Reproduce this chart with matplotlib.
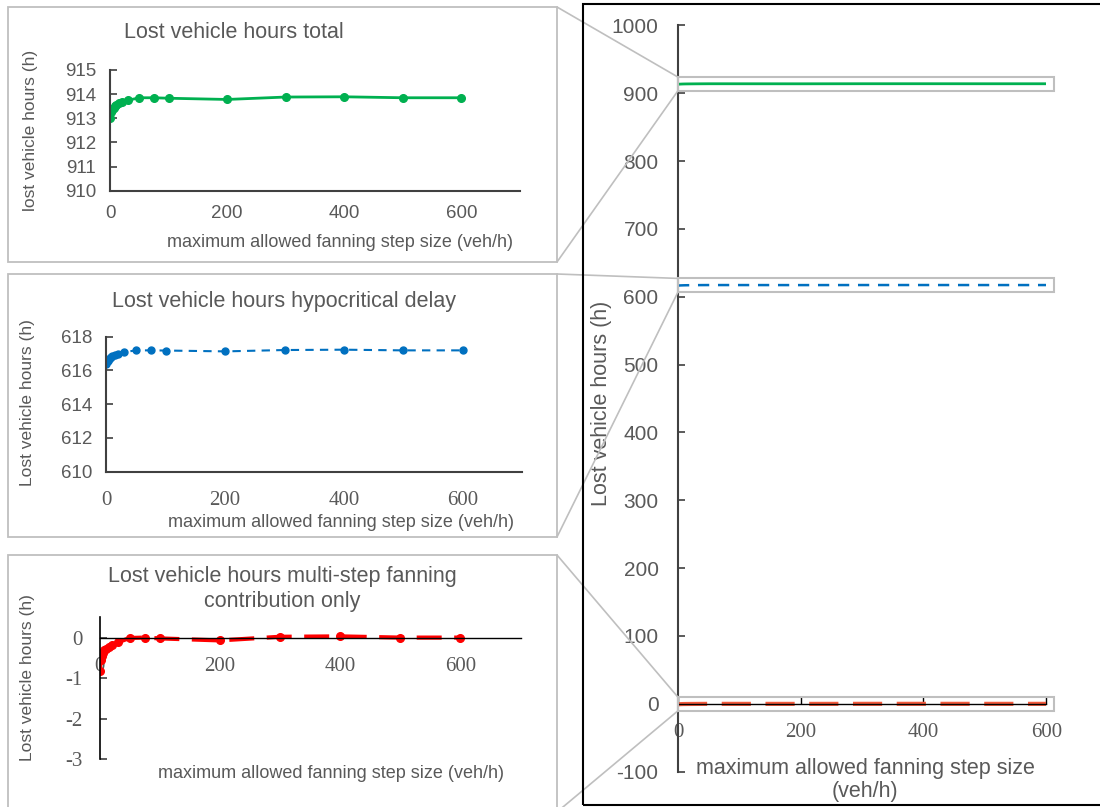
import matplotlib
matplotlib.use('Agg')
import matplotlib.pyplot as plt
from matplotlib.patches import Rectangle, ConnectionPatch
import numpy as np

# data
step_size = [0, 2, 4, 6, 8, 10, 15, 20, 30, 50, 75, 100, 200, 300, 400, 500, 600]
lvh_total = [913.03, 913.25, 913.35, 913.43, 913.50, 913.55, 913.62, 913.66, 913.74,
             913.85, 913.85, 913.83, 913.78, 913.88, 913.89, 913.85, 913.85]
lvh_hypo = [616.36, 616.55, 616.65, 616.72, 616.78, 616.84, 616.92, 616.97, 617.09,
            617.19, 617.19, 617.18, 617.13, 617.21, 617.23, 617.19, 617.19]
lvh_multi = [-0.83, -0.56, -0.45, -0.37, -0.31, -0.27, -0.22, -0.18, -0.12,
             -0.01, 0.00, -0.02, -0.07, 0.02, 0.03, 0.00, 0.00]

x_ticks = [0, 200, 400, 600]
xlabel = 'maximum allowed fanning step size (veh/h)'

GREEN = '#00B050'
BLUE = '#0070C0'
RED = '#FF0000'
RED_R = '#F25A3C'
TXT = '#595959'
BOXC = '#BFBFBF'
SANS = 'Liberation Sans'
SERIF = 'Liberation Serif'

W, H = 1100, 807
plt.rcParams['font.family'] = SANS
plt.rcParams['axes.unicode_minus'] = False

fig = plt.figure(figsize=(W / 100, H / 100), dpi=100)


def px_axes(x0, y0, x1, y1):
    # axes from pixel box (top-left origin)
    return fig.add_axes([x0 / W, 1 - y1 / H, (x1 - x0) / W, (y1 - y0) / H])


def fpt(x, y):
    return (x / W, 1 - y / H)


def style_ax(ax, tick_font_x, tick_font_y, size_x, size_y, padx, pady):
    ax.spines['top'].set_visible(False)
    ax.spines['right'].set_visible(False)
    ax.set_facecolor('none')
    ax.tick_params(axis='y', direction='in', length=5, width=1.2, colors='#404040',
                   labelcolor=TXT, labelsize=size_y, pad=pady)
    ax.tick_params(axis='x', length=0, labelcolor=TXT, labelsize=size_x, pad=padx)
    for lab in ax.get_xticklabels():
        lab.set_family(tick_font_x)
    for lab in ax.get_yticklabels():
        lab.set_family(tick_font_y)


# ---- panel 1: total
ax1 = px_axes(110, 70, 520, 190.7)
ax1.plot(step_size, lvh_total, color=GREEN, lw=2, marker='o', ms=5.5)
ax1.set_xlim(0, 700)
ax1.set_ylim(910, 915)
ax1.set_xticks(x_ticks)
ax1.set_yticks(np.arange(910, 916, 1))
for s in ['left', 'bottom']:
    ax1.spines[s].set_color('#404040')
    ax1.spines[s].set_linewidth(1.5)
style_ax(ax1, SANS, SANS, 13.5, 13.5, 10, 10)
ax1.set_xlabel(xlabel, fontsize=13, color=TXT, va='center')
ax1.xaxis.set_label_coords(0.561, -0.433)
ax1.set_ylabel('lost vehicle hours (h)', fontsize=12.5, color=TXT, va='center')
ax1.yaxis.set_label_coords(-0.195, 0.503)
fig.text(*fpt(234, 33), 'Lost vehicle hours total', fontsize=15.5, color=TXT,
         ha='center', va='center')

# ---- panel 2: hypocritical delay
ax2 = px_axes(106.4, 336.7, 522, 471.7)
ax2.plot(step_size, lvh_hypo, color=BLUE, lw=1.5, ls=(0, (4, 3)), marker='o', ms=5)
ax2.set_xlim(0, 700)
ax2.set_ylim(610, 618)
ax2.set_xticks(x_ticks)
ax2.set_yticks(np.arange(610, 619, 2))
for s in ['left', 'bottom']:
    ax2.spines[s].set_color('#404040')
    ax2.spines[s].set_linewidth(1.5)
style_ax(ax2, SERIF, SANS, 15, 13.5, 14, 10)
ax2.set_xlabel(xlabel, fontsize=13, color=TXT, va='center')
ax2.xaxis.set_label_coords(0.5645, -0.3726)
ax2.set_ylabel('Lost vehicle hours (h)', fontsize=12.5, color=TXT, va='center')
ax2.yaxis.set_label_coords(-0.191, 0.509)
fig.text(*fpt(283.6, 302), 'Lost vehicle hours hypocritical delay', fontsize=15.5,
         color=TXT, ha='center', va='center')

# ---- panel 3: multi-step fanning contribution
ax3 = px_axes(99.5, 617.3, 520.5, 759.3)
ax3.plot(step_size, lvh_multi, color=RED, lw=3, ls=(0, (6, 3)), marker='o', ms=5.5)
ax3.set_xlim(0, 700)
ax3.set_ylim(-3, 0.5)
ax3.set_xticks(x_ticks)
ax3.set_yticks([-3, -2, -1, 0])
ax3.spines['bottom'].set_position(('data', 0))
ax3.spines['bottom'].set_color('black')
ax3.spines['bottom'].set_linewidth(1)
ax3.spines['left'].set_color('black')
ax3.spines['left'].set_linewidth(1.2)
style_ax(ax3, SERIF, SERIF, 15, 15, 14, 12)
ax3.set_xlabel(xlabel, fontsize=13, color=TXT, va='center')
ax3.xaxis.set_label_coords(0.55, -0.0965)
ax3.set_ylabel('Lost vehicle hours (h)', fontsize=12.5, color=TXT, va='center')
ax3.yaxis.set_label_coords(-0.172, 0.5725)
fig.text(*fpt(282, 589), 'Lost vehicle hours multi-step fanning\ncontribution only',
         fontsize=15.5, color=TXT, ha='center', va='center', linespacing=1.2)

# ---- right panel: all three on one scale
axr = px_axes(678, 25.3, 1046.2, 771.7)
axr.plot(step_size, lvh_total, color=GREEN, lw=2)
axr.plot(step_size, lvh_hypo, color=BLUE, lw=1.8, ls=(0, (4.5, 3.5)))
axr.plot(step_size, lvh_multi, color=RED_R, lw=3, ls=(0, (7, 3.5)))
axr.set_xlim(0, 600)
axr.set_ylim(-100, 1000)
axr.set_xticks(x_ticks)
axr.set_yticks(np.arange(-100, 1001, 100))
axr.spines['bottom'].set_position(('data', 0))
axr.spines['bottom'].set_color('black')
axr.spines['bottom'].set_linewidth(1)
axr.spines['left'].set_color('#404040')
axr.spines['left'].set_linewidth(1.5)
style_ax(axr, SERIF, SANS, 15, 15, 14, 14)
axr.tick_params(axis='x', direction='in', length=5, width=1, colors='black',
                labelcolor=TXT)
axr.set_xlabel('maximum allowed fanning step size\n(veh/h)', fontsize=15.5, color=TXT,
               va='center', linespacing=1.1)
axr.xaxis.set_label_coords(0.509, -0.0115)
axr.set_ylabel('Lost vehicle hours (h)', fontsize=15.5, color=TXT, va='center')
axr.yaxis.set_label_coords(-0.209, 0.494)

# outer frame of right panel
fig.patches.append(Rectangle(fpt(583, 805), 530 / W, 801 / H, transform=fig.transFigure,
                             fill=False, ec='black', lw=1.5))

# inset panel boxes and zoom markers
panel_boxes = [(8, 7, 557, 262), (8, 274, 557, 537), (8, 555, 557, 812)]
series = [lvh_total, lvh_hypo, lvh_multi]
for (x0, y0, x1, y1), vals in zip(panel_boxes, series):
    fig.patches.append(Rectangle(fpt(x0, y1), (x1 - x0) / W, (y1 - y0) / H,
                                 transform=fig.transFigure, fill=False, ec=BOXC, lw=1.3))
    mid = np.mean(vals)
    lo, hi = mid - 10, mid + 10
    axr.add_patch(Rectangle((0, lo), 612, hi - lo, fill=False, ec=BOXC, lw=1.5,
                            clip_on=False, zorder=3))
    for py, dy in [(y0, hi), (y1, lo)]:
        con = ConnectionPatch(xyA=fpt(x1, py), coordsA='figure fraction',
                              xyB=(0, dy), coordsB=axr.transData, color=BOXC, lw=1.2)
        fig.add_artist(con)

fig.savefig('out.png', dpi=100)
